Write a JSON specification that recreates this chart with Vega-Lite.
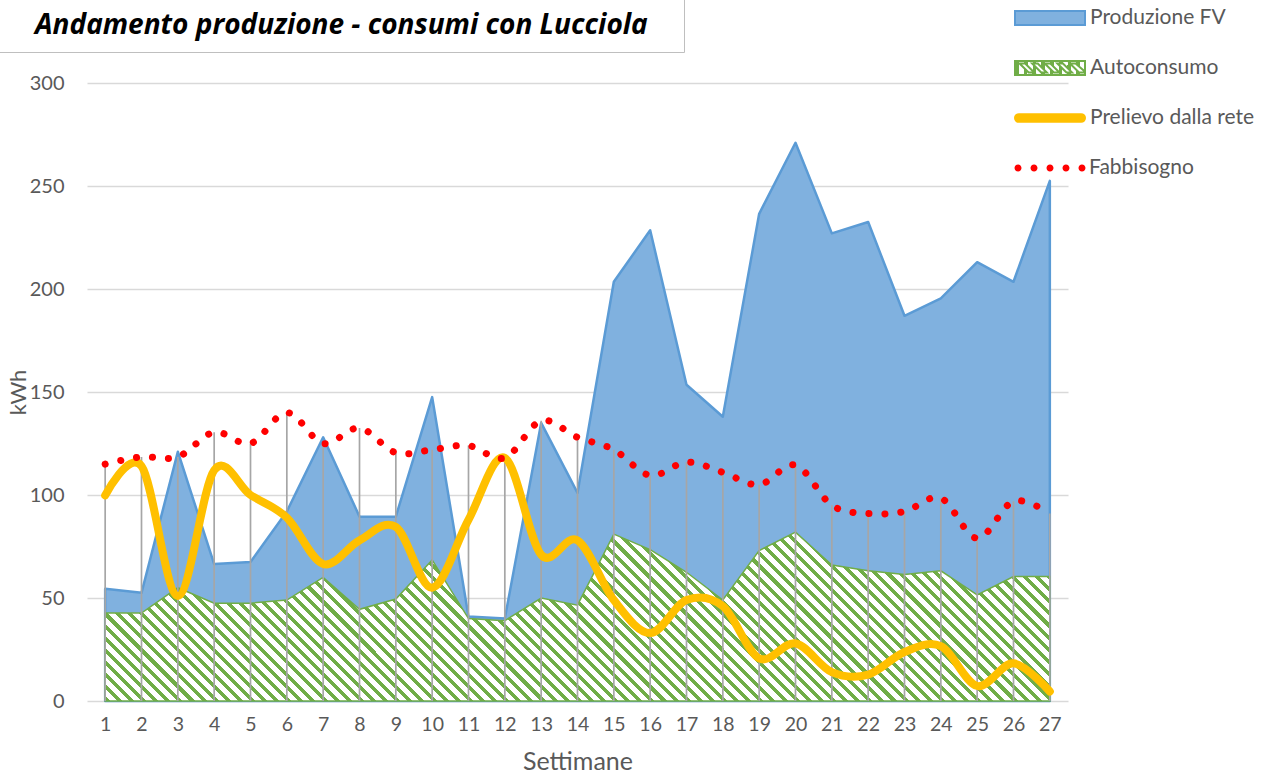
{
  "$schema": "https://vega.github.io/schema/vega-lite/v6.json",
  "autosize": {"type": "none"},
  "padding": {"left": 87, "top": 83, "right": 219, "bottom": 77},
  "width": 981,
  "height": 618,
  "background": "white",
  "config": {"view": {"stroke": null}, "font": "Lato"},
  "data": {"values": [
    {"w": 1, "prod": 54.5, "auto": 42.7, "prel": 99.8, "fabb": 115},
    {"w": 2, "prod": 52.5, "auto": 42.7, "prel": 114, "fabb": 118.5},
    {"w": 3, "prod": 121, "auto": 55, "prel": 51, "fabb": 118.5},
    {"w": 4, "prod": 66.5, "auto": 47.5, "prel": 112, "fabb": 130.5},
    {"w": 5, "prod": 67.5, "auto": 47.5, "prel": 100, "fabb": 125},
    {"w": 6, "prod": 92, "auto": 49, "prel": 89, "fabb": 140},
    {"w": 7, "prod": 128, "auto": 60, "prel": 66.5, "fabb": 125},
    {"w": 8, "prod": 89.5, "auto": 44.5, "prel": 78, "fabb": 132.5},
    {"w": 9, "prod": 89.5, "auto": 49.5, "prel": 84.5, "fabb": 120.5},
    {"w": 10, "prod": 147.5, "auto": 68.5, "prel": 55, "fabb": 122},
    {"w": 11, "prod": 41, "auto": 40, "prel": 88, "fabb": 124},
    {"w": 12, "prod": 40, "auto": 39, "prel": 118, "fabb": 118},
    {"w": 13, "prod": 135, "auto": 50, "prel": 71, "fabb": 136},
    {"w": 14, "prod": 101, "auto": 46.5, "prel": 78, "fabb": 128},
    {"w": 15, "prod": 203.5, "auto": 81, "prel": 49, "fabb": 122},
    {"w": 16, "prod": 228.5, "auto": 73.5, "prel": 33, "fabb": 109.5},
    {"w": 17, "prod": 153.5, "auto": 62.5, "prel": 49, "fabb": 116},
    {"w": 18, "prod": 138, "auto": 49, "prel": 46, "fabb": 111},
    {"w": 19, "prod": 236.5, "auto": 73, "prel": 20.7, "fabb": 105},
    {"w": 20, "prod": 271, "auto": 82, "prel": 28, "fabb": 114.5},
    {"w": 21, "prod": 227, "auto": 66, "prel": 14, "fabb": 95},
    {"w": 22, "prod": 232.5, "auto": 63.2, "prel": 12.8, "fabb": 91},
    {"w": 23, "prod": 187, "auto": 61.4, "prel": 23.8, "fabb": 92},
    {"w": 24, "prod": 195.5, "auto": 63.2, "prel": 26.6, "fabb": 98.5},
    {"w": 25, "prod": 213, "auto": 51.5, "prel": 7.3, "fabb": 79},
    {"w": 26, "prod": 203.5, "auto": 60.4, "prel": 18.3, "fabb": 97},
    {"w": 27, "prod": 252.5, "auto": 60.4, "prel": 4.6, "fabb": 91}
  ]},
  "encoding": {
    "x": {
      "field": "w", "type": "ordinal", "title": "Settimane",
      "scale": {"type": "point", "padding": 0.5},
      "axis": {"labelAngle": 0, "domain": false, "ticks": false, "grid": false, "labelFont": "Lato", "labelFontSize": 19.5, "labelColor": "#595959", "labelPadding": 14, "titleFont": "Lato", "titleFontSize": 25, "titleFontWeight": "normal", "titleColor": "#595959", "titlePadding": 16}
    }
  },
  "resolve": {"scale": {"stroke": "independent", "strokeDash": "independent"}, "legend": {"stroke": "independent", "strokeDash": "independent"}},
  "layer": [
    {
      "mark": {"type": "area", "strokeWidth": 2.5, "strokeJoin": "round", "opacity": 1},
      "encoding": {
        "y": {
          "field": "prod", "type": "quantitative", "title": "kWh",
          "scale": {"domain": [0, 300]},
          "axis": {"values": [0, 50, 100, 150, 200, 250, 300], "domain": false, "ticks": false, "gridColor": "#D9D9D9", "gridWidth": 1.3, "labelFont": "Lato", "labelFontSize": 20, "labelColor": "#595959", "labelPadding": 23, "titleFont": "Lato", "titleFontSize": 22, "titleFontWeight": "normal", "titleColor": "#595959", "titlePadding": -1}
        },
        "stroke": {
          "datum": "Produzione FV", "type": "nominal",
          "scale": {"range": ["#5B9BD5"]},
          "legend": {"orient": "none", "legendX": 927, "legendY": -101, "title": null, "padding": 0, "symbolSize": 4900, "symbolStrokeWidth": 2, "symbolType": "M-1,-0.2H1V0.2H-1Z", "labelFont": "Lato", "labelFontSize": 21, "labelColor": "#595959", "labelOffset": 4, "labelLimit": 0}
        },
        "fill": {"value": "#80B1DF"}
      }
    },
    {
      "mark": {"type": "area", "strokeWidth": 1.5, "opacity": 1},
      "encoding": {
        "y": {"field": "auto", "type": "quantitative", "title": "kWh"},
        "stroke": {
          "datum": "Autoconsumo", "type": "nominal",
          "scale": {"range": ["#70AD47"]},
          "legend": {"orient": "none", "legendX": 927, "legendY": -51, "title": null, "padding": 0, "symbolSize": 4900, "symbolStrokeWidth": 2, "symbolType": "M-1,-0.2H1V0.2H-1ZM-0.87,-0.13L-0.61,0.13H-0.45L-0.71,-0.13ZM-0.51,-0.13L-0.25,0.13H-0.09L-0.35,-0.13ZM-0.15,-0.13L0.11,0.13H0.27L0.01,-0.13ZM0.21,-0.13L0.47,0.13H0.63L0.37,-0.13ZM0.57,-0.13L0.83,0.13H0.97V0.08L0.73,-0.13Z", "labelFont": "Lato", "labelFontSize": 21, "labelColor": "#595959", "labelOffset": 4, "labelLimit": 0}
        },
        "fill": {"condition": {"test": "false", "value": "#70AD47"}, "value": {"gradient": "linear", "x1": 0, "y1": 1, "x2": 1.1423, "y2": 0.7958, "stops": [
          {"offset": 0, "color": "#70AD47"}, {"offset": 0.0046, "color": "#70AD47"}, {"offset": 0.0046, "color": "#fff"}, {"offset": 0.0109, "color": "#fff"},
          {"offset": 0.0109, "color": "#70AD47"}, {"offset": 0.0155, "color": "#70AD47"}, {"offset": 0.0155, "color": "#fff"}, {"offset": 0.0217, "color": "#fff"},
          {"offset": 0.0217, "color": "#70AD47"}, {"offset": 0.0263, "color": "#70AD47"}, {"offset": 0.0263, "color": "#fff"}, {"offset": 0.0326, "color": "#fff"},
          {"offset": 0.0326, "color": "#70AD47"}, {"offset": 0.0372, "color": "#70AD47"}, {"offset": 0.0372, "color": "#fff"}, {"offset": 0.0435, "color": "#fff"},
          {"offset": 0.0435, "color": "#70AD47"}, {"offset": 0.0481, "color": "#70AD47"}, {"offset": 0.0481, "color": "#fff"}, {"offset": 0.0543, "color": "#fff"},
          {"offset": 0.0543, "color": "#70AD47"}, {"offset": 0.0589, "color": "#70AD47"}, {"offset": 0.0589, "color": "#fff"}, {"offset": 0.0652, "color": "#fff"},
          {"offset": 0.0652, "color": "#70AD47"}, {"offset": 0.0698, "color": "#70AD47"}, {"offset": 0.0698, "color": "#fff"}, {"offset": 0.0761, "color": "#fff"},
          {"offset": 0.0761, "color": "#70AD47"}, {"offset": 0.0807, "color": "#70AD47"}, {"offset": 0.0807, "color": "#fff"}, {"offset": 0.087, "color": "#fff"},
          {"offset": 0.087, "color": "#70AD47"}, {"offset": 0.0915, "color": "#70AD47"}, {"offset": 0.0915, "color": "#fff"}, {"offset": 0.0978, "color": "#fff"},
          {"offset": 0.0978, "color": "#70AD47"}, {"offset": 0.1024, "color": "#70AD47"}, {"offset": 0.1024, "color": "#fff"}, {"offset": 0.1087, "color": "#fff"},
          {"offset": 0.1087, "color": "#70AD47"}, {"offset": 0.1133, "color": "#70AD47"}, {"offset": 0.1133, "color": "#fff"}, {"offset": 0.1196, "color": "#fff"},
          {"offset": 0.1196, "color": "#70AD47"}, {"offset": 0.1241, "color": "#70AD47"}, {"offset": 0.1241, "color": "#fff"}, {"offset": 0.1304, "color": "#fff"},
          {"offset": 0.1304, "color": "#70AD47"}, {"offset": 0.135, "color": "#70AD47"}, {"offset": 0.135, "color": "#fff"}, {"offset": 0.1413, "color": "#fff"},
          {"offset": 0.1413, "color": "#70AD47"}, {"offset": 0.1459, "color": "#70AD47"}, {"offset": 0.1459, "color": "#fff"}, {"offset": 0.1522, "color": "#fff"},
          {"offset": 0.1522, "color": "#70AD47"}, {"offset": 0.1567, "color": "#70AD47"}, {"offset": 0.1567, "color": "#fff"}, {"offset": 0.163, "color": "#fff"},
          {"offset": 0.163, "color": "#70AD47"}, {"offset": 0.1676, "color": "#70AD47"}, {"offset": 0.1676, "color": "#fff"}, {"offset": 0.1739, "color": "#fff"},
          {"offset": 0.1739, "color": "#70AD47"}, {"offset": 0.1785, "color": "#70AD47"}, {"offset": 0.1785, "color": "#fff"}, {"offset": 0.1848, "color": "#fff"},
          {"offset": 0.1848, "color": "#70AD47"}, {"offset": 0.1893, "color": "#70AD47"}, {"offset": 0.1893, "color": "#fff"}, {"offset": 0.1957, "color": "#fff"},
          {"offset": 0.1957, "color": "#70AD47"}, {"offset": 0.2002, "color": "#70AD47"}, {"offset": 0.2002, "color": "#fff"}, {"offset": 0.2065, "color": "#fff"},
          {"offset": 0.2065, "color": "#70AD47"}, {"offset": 0.2111, "color": "#70AD47"}, {"offset": 0.2111, "color": "#fff"}, {"offset": 0.2174, "color": "#fff"},
          {"offset": 0.2174, "color": "#70AD47"}, {"offset": 0.222, "color": "#70AD47"}, {"offset": 0.222, "color": "#fff"}, {"offset": 0.2283, "color": "#fff"},
          {"offset": 0.2283, "color": "#70AD47"}, {"offset": 0.2328, "color": "#70AD47"}, {"offset": 0.2328, "color": "#fff"}, {"offset": 0.2391, "color": "#fff"},
          {"offset": 0.2391, "color": "#70AD47"}, {"offset": 0.2437, "color": "#70AD47"}, {"offset": 0.2437, "color": "#fff"}, {"offset": 0.25, "color": "#fff"},
          {"offset": 0.25, "color": "#70AD47"}, {"offset": 0.2546, "color": "#70AD47"}, {"offset": 0.2546, "color": "#fff"}, {"offset": 0.2609, "color": "#fff"},
          {"offset": 0.2609, "color": "#70AD47"}, {"offset": 0.2654, "color": "#70AD47"}, {"offset": 0.2654, "color": "#fff"}, {"offset": 0.2717, "color": "#fff"},
          {"offset": 0.2717, "color": "#70AD47"}, {"offset": 0.2763, "color": "#70AD47"}, {"offset": 0.2763, "color": "#fff"}, {"offset": 0.2826, "color": "#fff"},
          {"offset": 0.2826, "color": "#70AD47"}, {"offset": 0.2872, "color": "#70AD47"}, {"offset": 0.2872, "color": "#fff"}, {"offset": 0.2935, "color": "#fff"},
          {"offset": 0.2935, "color": "#70AD47"}, {"offset": 0.298, "color": "#70AD47"}, {"offset": 0.298, "color": "#fff"}, {"offset": 0.3043, "color": "#fff"},
          {"offset": 0.3043, "color": "#70AD47"}, {"offset": 0.3089, "color": "#70AD47"}, {"offset": 0.3089, "color": "#fff"}, {"offset": 0.3152, "color": "#fff"},
          {"offset": 0.3152, "color": "#70AD47"}, {"offset": 0.3198, "color": "#70AD47"}, {"offset": 0.3198, "color": "#fff"}, {"offset": 0.3261, "color": "#fff"},
          {"offset": 0.3261, "color": "#70AD47"}, {"offset": 0.3307, "color": "#70AD47"}, {"offset": 0.3307, "color": "#fff"}, {"offset": 0.337, "color": "#fff"},
          {"offset": 0.337, "color": "#70AD47"}, {"offset": 0.3415, "color": "#70AD47"}, {"offset": 0.3415, "color": "#fff"}, {"offset": 0.3478, "color": "#fff"},
          {"offset": 0.3478, "color": "#70AD47"}, {"offset": 0.3524, "color": "#70AD47"}, {"offset": 0.3524, "color": "#fff"}, {"offset": 0.3587, "color": "#fff"},
          {"offset": 0.3587, "color": "#70AD47"}, {"offset": 0.3633, "color": "#70AD47"}, {"offset": 0.3633, "color": "#fff"}, {"offset": 0.3696, "color": "#fff"},
          {"offset": 0.3696, "color": "#70AD47"}, {"offset": 0.3741, "color": "#70AD47"}, {"offset": 0.3741, "color": "#fff"}, {"offset": 0.3804, "color": "#fff"},
          {"offset": 0.3804, "color": "#70AD47"}, {"offset": 0.385, "color": "#70AD47"}, {"offset": 0.385, "color": "#fff"}, {"offset": 0.3913, "color": "#fff"},
          {"offset": 0.3913, "color": "#70AD47"}, {"offset": 0.3959, "color": "#70AD47"}, {"offset": 0.3959, "color": "#fff"}, {"offset": 0.4022, "color": "#fff"},
          {"offset": 0.4022, "color": "#70AD47"}, {"offset": 0.4067, "color": "#70AD47"}, {"offset": 0.4067, "color": "#fff"}, {"offset": 0.413, "color": "#fff"},
          {"offset": 0.413, "color": "#70AD47"}, {"offset": 0.4176, "color": "#70AD47"}, {"offset": 0.4176, "color": "#fff"}, {"offset": 0.4239, "color": "#fff"},
          {"offset": 0.4239, "color": "#70AD47"}, {"offset": 0.4285, "color": "#70AD47"}, {"offset": 0.4285, "color": "#fff"}, {"offset": 0.4348, "color": "#fff"},
          {"offset": 0.4348, "color": "#70AD47"}, {"offset": 0.4393, "color": "#70AD47"}, {"offset": 0.4393, "color": "#fff"}, {"offset": 0.4457, "color": "#fff"},
          {"offset": 0.4457, "color": "#70AD47"}, {"offset": 0.4502, "color": "#70AD47"}, {"offset": 0.4502, "color": "#fff"}, {"offset": 0.4565, "color": "#fff"},
          {"offset": 0.4565, "color": "#70AD47"}, {"offset": 0.4611, "color": "#70AD47"}, {"offset": 0.4611, "color": "#fff"}, {"offset": 0.4674, "color": "#fff"},
          {"offset": 0.4674, "color": "#70AD47"}, {"offset": 0.472, "color": "#70AD47"}, {"offset": 0.472, "color": "#fff"}, {"offset": 0.4783, "color": "#fff"},
          {"offset": 0.4783, "color": "#70AD47"}, {"offset": 0.4828, "color": "#70AD47"}, {"offset": 0.4828, "color": "#fff"}, {"offset": 0.4891, "color": "#fff"},
          {"offset": 0.4891, "color": "#70AD47"}, {"offset": 0.4937, "color": "#70AD47"}, {"offset": 0.4937, "color": "#fff"}, {"offset": 0.5, "color": "#fff"},
          {"offset": 0.5, "color": "#70AD47"}, {"offset": 0.5046, "color": "#70AD47"}, {"offset": 0.5046, "color": "#fff"}, {"offset": 0.5109, "color": "#fff"},
          {"offset": 0.5109, "color": "#70AD47"}, {"offset": 0.5154, "color": "#70AD47"}, {"offset": 0.5154, "color": "#fff"}, {"offset": 0.5217, "color": "#fff"},
          {"offset": 0.5217, "color": "#70AD47"}, {"offset": 0.5263, "color": "#70AD47"}, {"offset": 0.5263, "color": "#fff"}, {"offset": 0.5326, "color": "#fff"},
          {"offset": 0.5326, "color": "#70AD47"}, {"offset": 0.5372, "color": "#70AD47"}, {"offset": 0.5372, "color": "#fff"}, {"offset": 0.5435, "color": "#fff"},
          {"offset": 0.5435, "color": "#70AD47"}, {"offset": 0.548, "color": "#70AD47"}, {"offset": 0.548, "color": "#fff"}, {"offset": 0.5543, "color": "#fff"},
          {"offset": 0.5543, "color": "#70AD47"}, {"offset": 0.5589, "color": "#70AD47"}, {"offset": 0.5589, "color": "#fff"}, {"offset": 0.5652, "color": "#fff"},
          {"offset": 0.5652, "color": "#70AD47"}, {"offset": 0.5698, "color": "#70AD47"}, {"offset": 0.5698, "color": "#fff"}, {"offset": 0.5761, "color": "#fff"},
          {"offset": 0.5761, "color": "#70AD47"}, {"offset": 0.5807, "color": "#70AD47"}, {"offset": 0.5807, "color": "#fff"}, {"offset": 0.587, "color": "#fff"},
          {"offset": 0.587, "color": "#70AD47"}, {"offset": 0.5915, "color": "#70AD47"}, {"offset": 0.5915, "color": "#fff"}, {"offset": 0.5978, "color": "#fff"},
          {"offset": 0.5978, "color": "#70AD47"}, {"offset": 0.6024, "color": "#70AD47"}, {"offset": 0.6024, "color": "#fff"}, {"offset": 0.6087, "color": "#fff"},
          {"offset": 0.6087, "color": "#70AD47"}, {"offset": 0.6133, "color": "#70AD47"}, {"offset": 0.6133, "color": "#fff"}, {"offset": 0.6196, "color": "#fff"},
          {"offset": 0.6196, "color": "#70AD47"}, {"offset": 0.6241, "color": "#70AD47"}, {"offset": 0.6241, "color": "#fff"}, {"offset": 0.6304, "color": "#fff"},
          {"offset": 0.6304, "color": "#70AD47"}, {"offset": 0.635, "color": "#70AD47"}, {"offset": 0.635, "color": "#fff"}, {"offset": 0.6413, "color": "#fff"},
          {"offset": 0.6413, "color": "#70AD47"}, {"offset": 0.6459, "color": "#70AD47"}, {"offset": 0.6459, "color": "#fff"}, {"offset": 0.6522, "color": "#fff"},
          {"offset": 0.6522, "color": "#70AD47"}, {"offset": 0.6567, "color": "#70AD47"}, {"offset": 0.6567, "color": "#fff"}, {"offset": 0.663, "color": "#fff"},
          {"offset": 0.663, "color": "#70AD47"}, {"offset": 0.6676, "color": "#70AD47"}, {"offset": 0.6676, "color": "#fff"}, {"offset": 0.6739, "color": "#fff"},
          {"offset": 0.6739, "color": "#70AD47"}, {"offset": 0.6785, "color": "#70AD47"}, {"offset": 0.6785, "color": "#fff"}, {"offset": 0.6848, "color": "#fff"},
          {"offset": 0.6848, "color": "#70AD47"}, {"offset": 0.6893, "color": "#70AD47"}, {"offset": 0.6893, "color": "#fff"}, {"offset": 0.6957, "color": "#fff"},
          {"offset": 0.6957, "color": "#70AD47"}, {"offset": 0.7002, "color": "#70AD47"}, {"offset": 0.7002, "color": "#fff"}, {"offset": 0.7065, "color": "#fff"},
          {"offset": 0.7065, "color": "#70AD47"}, {"offset": 0.7111, "color": "#70AD47"}, {"offset": 0.7111, "color": "#fff"}, {"offset": 0.7174, "color": "#fff"},
          {"offset": 0.7174, "color": "#70AD47"}, {"offset": 0.722, "color": "#70AD47"}, {"offset": 0.722, "color": "#fff"}, {"offset": 0.7283, "color": "#fff"},
          {"offset": 0.7283, "color": "#70AD47"}, {"offset": 0.7328, "color": "#70AD47"}, {"offset": 0.7328, "color": "#fff"}, {"offset": 0.7391, "color": "#fff"},
          {"offset": 0.7391, "color": "#70AD47"}, {"offset": 0.7437, "color": "#70AD47"}, {"offset": 0.7437, "color": "#fff"}, {"offset": 0.75, "color": "#fff"},
          {"offset": 0.75, "color": "#70AD47"}, {"offset": 0.7546, "color": "#70AD47"}, {"offset": 0.7546, "color": "#fff"}, {"offset": 0.7609, "color": "#fff"},
          {"offset": 0.7609, "color": "#70AD47"}, {"offset": 0.7654, "color": "#70AD47"}, {"offset": 0.7654, "color": "#fff"}, {"offset": 0.7717, "color": "#fff"},
          {"offset": 0.7717, "color": "#70AD47"}, {"offset": 0.7763, "color": "#70AD47"}, {"offset": 0.7763, "color": "#fff"}, {"offset": 0.7826, "color": "#fff"},
          {"offset": 0.7826, "color": "#70AD47"}, {"offset": 0.7872, "color": "#70AD47"}, {"offset": 0.7872, "color": "#fff"}, {"offset": 0.7935, "color": "#fff"},
          {"offset": 0.7935, "color": "#70AD47"}, {"offset": 0.798, "color": "#70AD47"}, {"offset": 0.798, "color": "#fff"}, {"offset": 0.8043, "color": "#fff"},
          {"offset": 0.8043, "color": "#70AD47"}, {"offset": 0.8089, "color": "#70AD47"}, {"offset": 0.8089, "color": "#fff"}, {"offset": 0.8152, "color": "#fff"},
          {"offset": 0.8152, "color": "#70AD47"}, {"offset": 0.8198, "color": "#70AD47"}, {"offset": 0.8198, "color": "#fff"}, {"offset": 0.8261, "color": "#fff"},
          {"offset": 0.8261, "color": "#70AD47"}, {"offset": 0.8307, "color": "#70AD47"}, {"offset": 0.8307, "color": "#fff"}, {"offset": 0.837, "color": "#fff"},
          {"offset": 0.837, "color": "#70AD47"}, {"offset": 0.8415, "color": "#70AD47"}, {"offset": 0.8415, "color": "#fff"}, {"offset": 0.8478, "color": "#fff"},
          {"offset": 0.8478, "color": "#70AD47"}, {"offset": 0.8524, "color": "#70AD47"}, {"offset": 0.8524, "color": "#fff"}, {"offset": 0.8587, "color": "#fff"},
          {"offset": 0.8587, "color": "#70AD47"}, {"offset": 0.8633, "color": "#70AD47"}, {"offset": 0.8633, "color": "#fff"}, {"offset": 0.8696, "color": "#fff"},
          {"offset": 0.8696, "color": "#70AD47"}, {"offset": 0.8741, "color": "#70AD47"}, {"offset": 0.8741, "color": "#fff"}, {"offset": 0.8804, "color": "#fff"},
          {"offset": 0.8804, "color": "#70AD47"}, {"offset": 0.885, "color": "#70AD47"}, {"offset": 0.885, "color": "#fff"}, {"offset": 0.8913, "color": "#fff"},
          {"offset": 0.8913, "color": "#70AD47"}, {"offset": 0.8959, "color": "#70AD47"}, {"offset": 0.8959, "color": "#fff"}, {"offset": 0.9022, "color": "#fff"},
          {"offset": 0.9022, "color": "#70AD47"}, {"offset": 0.9067, "color": "#70AD47"}, {"offset": 0.9067, "color": "#fff"}, {"offset": 0.913, "color": "#fff"},
          {"offset": 0.913, "color": "#70AD47"}, {"offset": 0.9176, "color": "#70AD47"}, {"offset": 0.9176, "color": "#fff"}, {"offset": 0.9239, "color": "#fff"},
          {"offset": 0.9239, "color": "#70AD47"}, {"offset": 0.9285, "color": "#70AD47"}, {"offset": 0.9285, "color": "#fff"}, {"offset": 0.9348, "color": "#fff"},
          {"offset": 0.9348, "color": "#70AD47"}, {"offset": 0.9393, "color": "#70AD47"}, {"offset": 0.9393, "color": "#fff"}, {"offset": 0.9457, "color": "#fff"},
          {"offset": 0.9457, "color": "#70AD47"}, {"offset": 0.9502, "color": "#70AD47"}, {"offset": 0.9502, "color": "#fff"}, {"offset": 0.9565, "color": "#fff"},
          {"offset": 0.9565, "color": "#70AD47"}, {"offset": 0.9611, "color": "#70AD47"}, {"offset": 0.9611, "color": "#fff"}, {"offset": 0.9674, "color": "#fff"},
          {"offset": 0.9674, "color": "#70AD47"}, {"offset": 0.972, "color": "#70AD47"}, {"offset": 0.972, "color": "#fff"}, {"offset": 0.9783, "color": "#fff"},
          {"offset": 0.9783, "color": "#70AD47"}, {"offset": 0.9828, "color": "#70AD47"}, {"offset": 0.9828, "color": "#fff"}, {"offset": 0.9891, "color": "#fff"},
          {"offset": 0.9891, "color": "#70AD47"}, {"offset": 0.9937, "color": "#70AD47"}, {"offset": 0.9937, "color": "#fff"}, {"offset": 1, "color": "#fff"}
        ]}}
      }
    },
    {
      "mark": {"type": "rule", "stroke": "#A6A6A6", "strokeWidth": 1.7},
      "encoding": {
        "y": {"field": "fabb", "type": "quantitative", "title": "kWh"},
        "y2": {"datum": 0},
        "strokeDash": {
          "datum": "Andamento produzione - consumi con Lucciola", "type": "nominal",
          "scale": {"range": [[1, 0]]},
          "legend": {"orient": "none", "legendX": -107, "legendY": -84, "title": null, "padding": 8, "strokeColor": "#BFBFBF", "symbolType": "M-18.568,-1H18.568V1H-18.568Z", "symbolSize": 1369, "symbolOffset": 325, "symbolStrokeWidth": 0, "symbolOpacity": 0, "labelFont": "Open Sans", "labelFontSize": 28, "labelFontStyle": "italic", "labelFontWeight": "bold", "labelColor": "#000000", "labelOffset": -315, "labelLimit": 0}
        }
      }
    },
    {
      "mark": {"type": "line", "interpolate": "cardinal", "strokeWidth": 8, "strokeCap": "round", "strokeJoin": "round"},
      "encoding": {
        "y": {"field": "prel", "type": "quantitative", "title": "kWh"},
        "stroke": {
          "datum": "Prelievo dalla rete", "type": "nominal",
          "scale": {"range": ["#FFC000"]},
          "legend": {"orient": "none", "legendX": 927, "legendY": -1, "title": null, "padding": 0, "symbolSize": 4900, "symbolStrokeWidth": 2, "symbolFillColor": "#FFC000", "symbolType": "M-0.89,-0.11H0.89A0.11,0.11 0 0 1 0.89,0.11H-0.89A0.11,0.11 0 0 1 -0.89,-0.11Z", "labelFont": "Lato", "labelFontSize": 21, "labelColor": "#595959", "labelOffset": 4, "labelLimit": 0}
        }
      }
    },
    {
      "mark": {"type": "line", "interpolate": "cardinal", "strokeWidth": 7, "strokeCap": "round", "strokeDash": [0.1, 15.9]},
      "encoding": {
        "y": {"field": "fabb", "type": "quantitative", "title": "kWh"},
        "stroke": {
          "datum": "Fabbisogno", "type": "nominal",
          "scale": {"range": ["#FF0000"]},
          "legend": {"orient": "none", "legendX": 928, "legendY": 50, "title": null, "padding": 0, "symbolSize": 4900, "symbolStrokeWidth": 0, "symbolFillColor": "#FF0000", "symbolType": "M-1.014,0a0.1,0.1 0 1 0 0.2,0a0.1,0.1 0 1 0 -0.2,0M-0.557,0a0.1,0.1 0 1 0 0.2,0a0.1,0.1 0 1 0 -0.2,0M-0.1,0a0.1,0.1 0 1 0 0.2,0a0.1,0.1 0 1 0 -0.2,0M0.357,0a0.1,0.1 0 1 0 0.2,0a0.1,0.1 0 1 0 -0.2,0M0.814,0a0.1,0.1 0 1 0 0.2,0a0.1,0.1 0 1 0 -0.2,0", "labelFont": "Lato", "labelFontSize": 21, "labelColor": "#595959", "labelOffset": 4, "labelLimit": 0}
        }
      }
    }
  ]
}
